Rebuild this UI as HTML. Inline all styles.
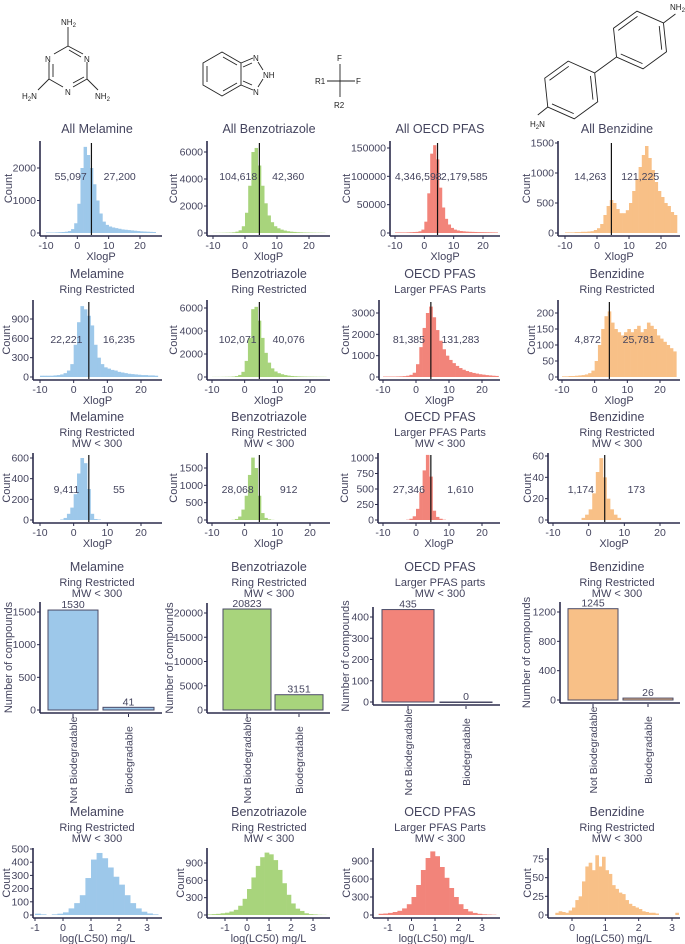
<!DOCTYPE html>
<html><head><meta charset="utf-8"><style>
html,body{margin:0;padding:0;background:#fff;}
svg{display:block;font-family:"Liberation Sans",sans-serif;}
</style></head><body>
<svg id="fig" width="685" height="944" viewBox="0 0 685 944">
<g id="structs" stroke="#222" stroke-width="0.9" fill="none">
  <g>
    <line x1="68" y1="27" x2="68" y2="46"/>
    <line x1="68" y1="46" x2="54" y2="54"/><line x1="68" y1="46" x2="83" y2="54"/><line x1="69" y1="50" x2="81" y2="57"/>
    <line x1="49" y1="62" x2="49" y2="79"/><line x1="53" y1="64" x2="53" y2="77"/>
    <line x1="87" y1="62" x2="87" y2="79"/>
    <line x1="49" y1="79" x2="63" y2="87"/><line x1="87" y1="79" x2="73" y2="87"/><line x1="84" y1="77" x2="73" y2="83"/>
    <line x1="49" y1="79" x2="38" y2="90"/><line x1="87" y1="79" x2="98" y2="90"/>
    <g fill="#222" stroke="none" font-size="8">
      <text x="61" y="25">NH<tspan font-size="6" dy="2">2</tspan></text>
      <text x="45" y="62">N</text><text x="84" y="62">N</text><text x="65" y="95">N</text>
      <text x="22" y="99">H<tspan font-size="6" dy="2">2</tspan><tspan dy="-2">N</tspan></text>
      <text x="95" y="99">NH<tspan font-size="6" dy="2">2</tspan></text>
    </g>
  </g>
  <g>
    <polygon points="222,52 241,63 241,85 222,96 203,85 203,63"/>
    <line x1="223" y1="57" x2="237" y2="65"/><line x1="207" y1="66" x2="207" y2="82"/><line x1="223" y1="91" x2="237" y2="83"/>
    <line x1="241" y1="63" x2="253" y2="58"/><line x1="241" y1="85" x2="253" y2="90"/>
    <line x1="243" y1="67" x2="252" y2="63"/><line x1="243" y1="81" x2="252" y2="85"/>
    <line x1="258" y1="62" x2="263" y2="70"/><line x1="258" y1="87" x2="263" y2="79"/>
    <g fill="#222" stroke="none" font-size="8"><text x="253" y="61">N</text><text x="263" y="78">NH</text><text x="253" y="95">N</text></g>
  </g>
  <g>
    <line x1="340" y1="64" x2="340" y2="97"/><line x1="327" y1="81" x2="355" y2="81"/>
    <g fill="#222" stroke="none" font-size="8"><text x="337" y="61">F</text><text x="315" y="84">R1</text><text x="356" y="84">F</text><text x="334" y="108">R2</text></g>
  </g>
  <g id="bzd">
    <g fill="#222" stroke="none" font-size="8">
      <text x="670" y="10">NH<tspan font-size="6" dy="2">2</tspan></text>
      <text x="530" y="127">H<tspan font-size="6" dy="2">2</tspan><tspan dy="-2">N</tspan></text>
    </g>
  </g>
</g>
</svg>
<script>
// ===== DATA =====
const xlogStart = -10;
const xlogBinWidth = 1;
const xlogTicks = [-10, 0, 10, 20];
const cutoffXlogP = 4.5;

const melAll = [15,15,15,20,25,30,40,60,120,300,900,2000,2650,2400,2000,1500,1000,600,350,250,200,170,150,130,110,100,90,80,70,60,50,45,40,35,30];
const bztAll = [10,10,15,20,25,30,50,100,200,500,1500,3500,6000,6300,5000,3500,2200,1300,800,500,350,250,180,130,100,80,60,50,40,35,30,25,20,20,15];
const pfasAll = [1000,1000,1000,1000,1200,1400,1700,2000,3000,6000,20000,70000,140000,155000,130000,80000,45000,25000,15000,9000,6000,4500,3500,3000,2500,2200,2000,1800,1600,1500,1400,1300,1200,1100,1000];
const bzdAll = [10,10,10,15,15,20,20,25,30,50,80,150,300,450,550,500,400,330,330,380,500,700,900,1100,1300,1450,1250,1050,850,700,600,500,450,350,300];

const melRing = [20,20,20,20,25,30,40,60,100,200,500,850,1100,1050,950,800,500,300,200,150,130,110,100,80,70,60,50,45,40,35,30,30,25,25,20];
const bztRing = [10,10,10,15,20,25,40,80,180,450,1400,3400,5900,6100,4900,3400,2100,1250,750,480,330,240,170,120,90,70,55,45,38,32,28,24,20,18,15];
const pfasLarger = [20,20,20,20,25,30,40,60,100,200,600,1400,2300,3000,3300,2800,2200,1700,1300,1000,800,650,520,420,340,280,230,190,160,130,110,90,75,60,50];
const bzdRing = [2,2,3,3,4,5,6,8,12,20,50,100,150,190,205,170,150,140,130,140,150,140,150,160,140,150,170,160,150,130,120,110,100,90,80];

const melMW = [0,0,0,0,0,0,5,20,60,120,250,450,600,550,300,60,10,5,0,0,0,0,0,0,0,0,0,0,0,0,0,0,0,0,0];
const bztMW = [0,0,0,0,0,0,5,30,100,300,700,1300,1800,1500,700,200,60,20,5,0,0,0,0,0,0,0,0,0,0,0,0,0,0,0,0];
const pfasMW = [0,0,0,0,0,0,0,5,20,60,180,450,800,1050,700,150,50,20,5,0,0,0,0,0,0,0,0,0,0,0,0,0,0,0,0];
const bzdMW = [0,0,0,0,0,0,0,0,2,5,10,25,45,58,40,20,10,5,2,0,0,0,0,0,0,0,0,0,0,0,0,0,0,0,0];

const leftCounts = [["55,097","27,200"],["104,618","42,360"],["4,346,598","2,179,585"],["14,263","121,225"]];
const ringCounts = [["22,221","16,235"],["102,071","40,076"],["81,385","131,283"],["4,872","25,781"]];
const mwCounts = [["9,411","55"],["28,068","912"],["27,346","1,610"],["1,174","173"]];

const bioCategories = ["Not Biodegradable","Biodegradable"];
const melBio = [1530, 41];
const bztBio = [20823, 3151];
const pfasBio = [435, 0];
const bzdBio = [1245, 26];

const lcBinWidth = 0.2;
const melLcStart = -1.0;
const melLc = [10,5,0,5,10,20,50,90,150,280,420,470,430,360,290,230,150,90,50,25,12,5];
const bztLcStart = -1.8;
const bztLc = [10,15,20,30,40,60,90,160,280,450,650,850,1000,1080,1050,950,780,550,350,200,110,70,30,15,10,5,3];
const pfasLcStart = -1.4;
const pfasLc = [20,25,35,50,70,110,180,300,500,750,950,1060,980,800,620,450,300,180,100,60,35,20,12,8,5];
const bzdLcStart = -0.5;
const bzdLcWidth = 0.1;
const bzdLc = [3,5,4,3,6,10,20,25,45,65,70,60,80,65,78,60,55,40,35,30,28,20,15,12,10,8,5,4,3,3,2,0,0,0,0,0,3];

const yTicksAll = [[0,1000,2000],[0,2000,4000,6000],[0,50000,100000,150000],[0,500,1000,1500]];
const yTicksRing = [[0,300,600,900],[0,2000,4000,6000],[0,1000,2000,3000],[0,50,100,150,200]];
const yTicksMW = [[0,200,400,600],[0,500,1000,1500],[0,250,500,750,1000],[0,20,40,60]];
const yTicksBio = [[0,500,1000,1500],[0,5000,10000,15000,20000],[0,100,200,300,400],[0,400,800,1200]];
const yTicksLc = [[0,100,200,300,400,500],[0,300,600,900],[0,300,600,900],[0,25,50,75]];
const lcTicks = [[-1,0,1,2,3],[-1,0,1,2,3],[-1,0,1,2,3],[0,1,2,3]];

const titlesMain = ["Melamine","Benzotriazole","OECD PFAS","Benzidine"];
const subRing = ["Ring Restricted","Ring Restricted","Larger PFAS Parts","Ring Restricted"];
const subBio = ["Ring Restricted","Ring Restricted","Larger PFAS parts","Ring Restricted"];

// ===== STYLE / LAYOUT =====
const COLORS = ["#9dc8ea","#a8d47c","#f2847a","#f8c087"];
const AXC = "#2b2b4b", TXT = "#44445e";
const NS = "http://www.w3.org/2000/svg";
const svg = document.getElementById('fig');
function mk(tag, attrs, parent){ const e=document.createElementNS(NS,tag); for(const k in attrs) e.setAttribute(k,attrs[k]); (parent||svg).appendChild(e); return e; }
function txt(s, x, y, size, anchor, parent, rot){ const t=mk('text',{x:x,y:y,'font-size':size,'text-anchor':anchor||'middle',fill:TXT},parent); if(rot) t.setAttribute('transform','rotate(-90 '+x+' '+y+')'); t.textContent=s; return t; }

// benzidine rings (structure drawing)
(function(){
  const g=document.getElementById('bzd');
  const ang=144*Math.PI/180, r=29;
  const d=2*r+27;
  const c1=[640,40], c2=[640+Math.cos(ang)*d, 40+Math.sin(ang)*d];
  [c1,c2].forEach(c=>{
    const pts=[];
    for(let k=0;k<6;k++){const a=ang+k*Math.PI/3; pts.push([c[0]+r*Math.cos(a), c[1]+r*Math.sin(a)]);}
    mk('polygon',{points:pts.map(p=>p.join(',')).join(' ')},g);
    [1,3,5].forEach(k=>{const p=pts[k],q=pts[(k+1)%6];
      mk('line',{x1:c[0]+(p[0]-c[0])*0.82,y1:c[1]+(p[1]-c[1])*0.82,x2:c[0]+(q[0]-c[0])*0.82,y2:c[1]+(q[1]-c[1])*0.82},g);});
  });
  const a0=[c1[0]+r*Math.cos(ang),c1[1]+r*Math.sin(ang)], b0=[c2[0]-r*Math.cos(ang),c2[1]-r*Math.sin(ang)];
  mk('line',{x1:a0[0],y1:a0[1],x2:b0[0],y2:b0[1]},g);
  const t1=[c1[0]-r*Math.cos(ang),c1[1]-r*Math.sin(ang)];
  mk('line',{x1:t1[0],y1:t1[1],x2:t1[0]+12,y2:t1[1]-9},g);
  const t2=[c2[0]+r*Math.cos(ang),c2[1]+r*Math.sin(ang)];
  mk('line',{x1:t2[0],y1:t2[1],x2:t2[0]-10,y2:t2[1]+8},g);
})();

const colCenters=[97,269,440,617];
const colRight=[162,330,500,680];

function linAxis(px0,v0,px1,v1){ return v=> px0+(v-v0)*(px1-px0)/(v1-v0); }

function panel(P, name){
  const g=mk('g',{});
  
  
  const xs=linAxis(P.xp0,P.xv0,P.xp1,P.xv1);
  const ys=linAxis(P.base,0,P.yp,P.yv);
  return {g,xs,ys};
}
function axes(g,P,ys,yticks,xticks,xs,ylab,xlab){
  const ax=mk('g',{},g);
  
  
  const ab=P.base+3;
  mk('line',{x1:P.ax,y1:P.top,x2:P.ax,y2:ab,stroke:AXC,'stroke-width':1.6},ax);
  mk('line',{x1:P.ax,y1:ab,x2:P.right,y2:ab,stroke:AXC,'stroke-width':1.6},ax);
  yticks.forEach(v=>{const y=ys(v); mk('line',{x1:P.ax-3,y1:y,x2:P.ax,y2:y,stroke:AXC,'stroke-width':1},ax);
    const t=txt(String(v),P.ax-4,y+3.5,10.5,'end',ax);
    
    });
  if(xticks) xticks.forEach(v=>{const x=xs(v); mk('line',{x1:x,y1:ab,x2:x,y2:ab+3,stroke:AXC,'stroke-width':1},ax);
    const t=txt(String(v),x,ab+13,10.5,'middle',ax);
    
    });
  const yl=txt(ylab,P.ax-P.ylOff,(P.top+ab)/2,P.ylSize||11,'middle',ax,true);
  
  
  if(xlab){const xl=txt(xlab,(P.ax+P.right)/2+P.xlShift,ab+24,11,'middle',ax);
    
    }
}
function titles(g,c,lines,y0){
  lines.forEach((s,i)=>{const t=txt(s,colCenters[c],y0+(i===0?0:(i===1?15:26)),i===0?12.5:11,'middle',g);
    
    });
}
function hist(g,xs,ys,counts,start,w,color,P){
  counts.forEach((v,i)=>{ if(v<=0) return;
    const x1=xs(start+i*w), x2=xs(start+(i+1)*w);
    const r=mk('rect',{x:x1,y:ys(v),width:Math.max(0.5,x2-x1+0.3),height:P.base-ys(v),fill:color},g);
    
    
  });
}

// ===== XlogP rows =====
const rowsX=[
  {data:[melAll,bztAll,pfasAll,bzdAll], ticks:yTicksAll, counts:leftCounts, base:233, top:141, cntY:180, titleY:133,
   lines:c=>["All "+(c===2?"OECD PFAS":titlesMain[c])],
   geo:[{ax:40,xp0:46,xp1:140,yv:2000,yp:168,ylOff:28},{ax:207,xp0:213,xp1:309,yv:6000,yp:152,ylOff:30},{ax:390,xp0:395,xp1:483,yv:150000,yp:148,ylOff:40},{ax:558,xp0:565,xp1:661,yv:1500,yp:143,ylOff:28}]},
  {data:[melRing,bztRing,pfasLarger,bzdRing], ticks:yTicksRing, counts:ringCounts, base:377, top:300, cntY:343, titleY:278,
   lines:c=>[titlesMain[c],subRing[c]],
   geo:[{ax:33,xp0:40,xp1:141,yv:900,yp:319,ylOff:23},{ax:207,xp0:212,xp1:310,yv:6000,yp:308,ylOff:30},{ax:379,xp0:383,xp1:482,yv:3000,yp:313,ylOff:30},{ax:558,xp0:562,xp1:660,yv:200,yp:313,ylOff:23}]},
  {data:[melMW,bztMW,pfasMW,bzdMW], ticks:yTicksMW, counts:mwCounts, base:520, top:453, cntY:493, titleY:421,
   lines:c=>[titlesMain[c],subRing[c],"MW < 300"],
   geo:[{ax:33,xp0:40,xp1:141,yv:600,yp:458,ylOff:23},{ax:207,xp0:212,xp1:310,yv:1500,yp:468,ylOff:30},{ax:378,xp0:383,xp1:482,yv:1000,yp:458,ylOff:30},{ax:548,xp0:553,xp1:660,yv:60,yp:456,ylOff:17}]}
];
rowsX.forEach((R,ri)=>{
  for(let c=0;c<4;c++){
    const G=R.geo[c];
    const P={ax:G.ax,xp0:G.xp0,xv0:-10,xp1:G.xp1,xv1:20,base:R.base,yp:G.yp,yv:G.yv,top:R.top,right:colRight[c],ylOff:G.ylOff,xlShift:0};
    const {g,xs,ys}=panel(P,'xlogp-histogram-r'+(ri+1)+'-c'+(c+1));
    titles(g,c,R.lines(c),R.titleY);
    hist(g,xs,ys,R.data[c],xlogStart,xlogBinWidth,COLORS[c],P);
    const vx=xs(cutoffXlogP);
    const vl=mk('line',{x1:vx,y1:R.top+2,x2:vx,y2:R.base+2,stroke:'#111','stroke-width':1.2},g);
    
    
    const l=txt(R.counts[c][0],(xs(-10)+vx)/2+2,R.cntY,10.5,'middle',g);
    
    
    const r=txt(R.counts[c][1],(vx+xs(20))/2+4,R.cntY,10.5,'middle',g);
    
    
    axes(g,P,ys,R.ticks[c],xlogTicks,xs,'Count','XlogP');
  }
});

// ===== Biodegradability bars =====
const bioData=[melBio,bztBio,pfasBio,bzdBio];
const bioGeo=[{ax:40,base:710,yv:1500,yp:612,b:[[48,98],[103,154]],ylOff:28},
              {ax:207,base:710,yv:20000,yp:613,b:[[223,271],[275,323]],ylOff:34},
              {ax:373,base:702,yv:400,yp:617,b:[[382,434],[440,492]],ylOff:24},
              {ax:560,base:700,yv:1200,yp:612,b:[[568,618],[623,673]],ylOff:30}];
for(let c=0;c<4;c++){
  const G=bioGeo[c];
  const P={ax:G.ax,base:G.base,yp:G.yp,yv:G.yv,top:G.yp-10,right:colRight[c],ylOff:G.ylOff,ylSize:11};
  const {g,ys}=panel(P,'biodegradability-bar-chart-c'+(c+1));
  titles(g,c,[titlesMain[c],subBio[c],"MW < 300"],571);
  bioData[c].forEach((v,i)=>{
    const [x1,x2]=G.b[i];
    const r=mk('rect',{x:x1,y:ys(v),width:x2-x1,height:Math.max(0.5,G.base-ys(v)),fill:COLORS[c],stroke:'#4a4a66','stroke-width':1},g);
    
    
    const vt=txt(String(v),(x1+x2)/2,ys(v)-2,10.5,'middle',g);
    
    
    const ab=G.base+4;
    mk('line',{x1:(x1+x2)/2,y1:ab,x2:(x1+x2)/2,y2:ab+3,stroke:AXC,'stroke-width':1},g);
    const ct=txt(bioCategories[i],(x1+x2)/2+4,ab+46,10.5,'middle',g,true);
    
    
  });
  axes(g,P,ys,yTicksBio[c],null,null,'Number of compounds',null);
}

// ===== LC50 rows =====
const lcData=[melLc,bztLc,pfasLc,bzdLc];
const lcStarts=[melLcStart,bztLcStart,pfasLcStart,bzdLcStart];
const lcWidths=[lcBinWidth,lcBinWidth,lcBinWidth,bzdLcWidth];
const lcGeo=[{ax:33,xv0:-1,xp0:35,xv1:3,xp1:147,yv:500,yp:849,ylOff:23},
             {ax:207,xv0:-1,xp0:225,xv1:3,xp1:313,yv:900,yp:863,ylOff:23},
             {ax:373,xv0:-1,xp0:388,xv1:3,xp1:482,yv:900,yp:861,ylOff:23},
             {ax:548,xv0:0,xp0:572,xv1:3,xp1:672,yv:75,yp:859,ylOff:17}];
for(let c=0;c<4;c++){
  const G=lcGeo[c];
  const P={ax:G.ax,xp0:G.xp0,xv0:G.xv0,xp1:G.xp1,xv1:G.xv1,base:915,yp:G.yp,yv:G.yv,top:848,right:colRight[c],ylOff:G.ylOff,xlShift:0};
  const {g,xs,ys}=panel(P,'lc50-histogram-c'+(c+1));
  titles(g,c,[titlesMain[c],subRing[c],"MW < 300"],816);
  hist(g,xs,ys,lcData[c],lcStarts[c],lcWidths[c],COLORS[c],P);
  axes(g,P,ys,yTicksLc[c],lcTicks[c],xs,'Count','log(LC50) mg/L');
}
</script>
</body></html>
